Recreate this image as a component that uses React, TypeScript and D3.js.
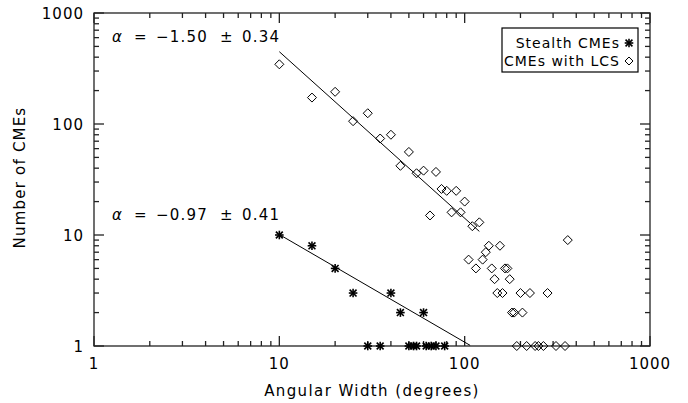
import React from "react";
import * as d3 from "d3";

// ---- Data ----
const lcsWidths = [10, 15, 20, 25, 30, 35, 40, 45, 50, 55, 60, 65, 70, 75, 80, 85, 90, 95, 100, 110, 120,
  105, 115, 125, 130, 135, 140, 145, 150, 155, 160, 165, 170, 175, 180, 185, 200, 205, 225, 280, 360,
  191, 216, 240, 250, 266, 311, 348];
const lcsCounts = [345, 173, 195, 106, 125, 74, 80, 42, 56, 36, 38, 15, 37, 26, 25, 16, 25, 16, 20, 12, 13,
  6, 5, 6, 7, 8, 5, 4, 3, 8, 3, 5, 5, 4, 2, 2, 3, 2, 3, 3, 9,
  1, 1, 1, 1, 1, 1, 1];

const stealthWidths = [10, 15, 20, 25, 40, 45, 60, 30, 35, 50, 53, 55, 62, 66, 70, 78];
const stealthCounts = [10, 8, 5, 3, 3, 2, 2, 1, 1, 1, 1, 1, 1, 1, 1, 1];

// Power-law fits: count = norm * (width/10)^alpha over [xStart, xEnd]
const fitLabels = ["CMEs with LCS", "Stealth CMEs"];
const fitAlpha = [-1.5, -0.97];
const fitErr = [0.34, 0.41];
const fitNorm = [448, 10.1];
const fitStart = [10, 10];
const fitEnd = [120, 107];

const xTickLabels = ["1", "10", "100", "1000"];
const yTickLabels = ["1", "10", "100", "1000"];

const W = 688, H = 403;
const margin = { left: 94, right: 38, top: 13, bottom: 57 };
const FONT = "'DejaVu Sans', sans-serif";

function Asterisk({ x, y, r = 4.3 }: { x: number; y: number; r?: number }) {
  const d = r * 0.8;
  return (
    <g stroke="#000" strokeWidth={1.6}>
      <line x1={x - r} y1={y} x2={x + r} y2={y} />
      <line x1={x} y1={y - r} x2={x} y2={y + r} />
      <line x1={x - d} y1={y - d} x2={x + d} y2={y + d} />
      <line x1={x - d} y1={y + d} x2={x + d} y2={y - d} />
    </g>
  );
}

function Diamond({ x, y, r = 4.5 }: { x: number; y: number; r?: number }) {
  return (
    <path d={`M${x},${y - r}L${x + r},${y}L${x},${y + r}L${x - r},${y}Z`} fill="none" stroke="#000" strokeWidth={1} />
  );
}

export default function App() {
  const x = d3.scaleLog().domain([1, 1000]).range([margin.left, W - margin.right]);
  const y = d3.scaleLog().domain([1, 1000]).range([H - margin.bottom, margin.top]);
  const [x0, x1] = x.range();
  const [y0, y1] = y.range();

  const majors = [1, 10, 100, 1000];
  const minors: number[] = [];
  for (const dec of [1, 10, 100]) for (let k = 2; k <= 9; k++) minors.push(dec * k);

  const fitPath = (i: number) => {
    const xs = [fitStart[i], fitEnd[i]];
    return d3.line<number>()
      .x((v) => x(v))
      .y((v) => y(fitNorm[i] * Math.pow(v / 10, fitAlpha[i])))(xs) as string;
  };

  const fmt = (v: number) => (v < 0 ? "\u2212" : "") + Math.abs(v).toFixed(2);
  const tickColor = "#222";

  return (
    <svg width={W} height={H} style={{ display: "block", position: "absolute", left: 0, top: 0, background: "#fff" }}>
      <rect width={W} height={H} fill="#fff" />
      {/* axes box */}
      <g stroke={tickColor} strokeWidth={1.3} fill="none">
        <rect x={x0} y={y1} width={x1 - x0} height={y0 - y1} />
        {majors.map((v) => (
          <g key={"xm" + v}>
            <line x1={x(v)} x2={x(v)} y1={y0} y2={y0 - 10} />
            <line x1={x(v)} x2={x(v)} y1={y1} y2={y1 + 10} />
            <line y1={y(v)} y2={y(v)} x1={x0} x2={x0 + 10} />
            <line y1={y(v)} y2={y(v)} x1={x1} x2={x1 - 10} />
          </g>
        ))}
        {minors.map((v) => (
          <g key={"xn" + v}>
            <line x1={x(v)} x2={x(v)} y1={y0} y2={y0 - 5} />
            <line x1={x(v)} x2={x(v)} y1={y1} y2={y1 + 5} />
            <line y1={y(v)} y2={y(v)} x1={x0} x2={x0 + 5} />
            <line y1={y(v)} y2={y(v)} x1={x1} x2={x1 - 5} />
          </g>
        ))}
      </g>
      {/* tick labels */}
      <g fontFamily={FONT} fontSize={15} fill="#000" letterSpacing={1}>
        {majors.map((v, i) => (
          <text key={"xl" + v} x={x(v)} y={y0 + 23} textAnchor="middle">{xTickLabels[i]}</text>
        ))}
        {majors.map((v, i) => (
          <text key={"yl" + v} x={x0 - 10} y={y(v) + 5.5} textAnchor="end">{yTickLabels[i]}</text>
        ))}
        <text x={(x0 + x1) / 2} y={396} textAnchor="middle" letterSpacing={1.4}>Angular Width (degrees)</text>
        <text transform={`translate(25,${(y0 + y1) / 2 - 2}) rotate(-90)`} textAnchor="middle" letterSpacing={1.2}>Number of CMEs</text>
      </g>

      {/* fit lines */}
      {[0, 1].map((i) => (
        <path key={"fit" + i} d={fitPath(i)} fill="none" stroke="#000" strokeWidth={1} />
      ))}

      {/* data */}
      {lcsWidths.map((w, i) => (
        <Diamond key={"d" + i} x={x(w)} y={y(lcsCounts[i])} />
      ))}
      {stealthWidths.map((w, i) => (
        <Asterisk key={"s" + i} x={x(w)} y={y(stealthCounts[i])} />
      ))}

      {/* alpha annotations */}
      <g fontFamily={FONT} fontSize={15} fill="#000" letterSpacing={1.2}>
        {[0, 1].map((i) => {
          const by = i === 0 ? 42 : 220;
          return (
            <text key={"a" + i} y={by}>
              <tspan x={112} fontStyle="italic">α</tspan>
              <tspan x={134}>=</tspan>
              <tspan x={156}>{fmt(fitAlpha[i])}</tspan>
              <tspan x={220}>±</tspan>
              <tspan x={242}>{fitErr[i].toFixed(2)}</tspan>
            </text>
          );
        })}
      </g>

      {/* legend */}
      <g>
        <rect x={502} y={28} width={136} height={44} fill="#fff" stroke="#000" strokeWidth={1.2} />
        <g fontFamily={FONT} fontSize={14} fill="#000" letterSpacing={1}>
          <text x={620} y={48} textAnchor="end">{fitLabels[1]}</text>
          <text x={620} y={66} textAnchor="end">{fitLabels[0]}</text>
        </g>
        <Asterisk x={629} y={43} />
        <Diamond x={629} y={61} r={4} />
      </g>
    </svg>
  );
}
